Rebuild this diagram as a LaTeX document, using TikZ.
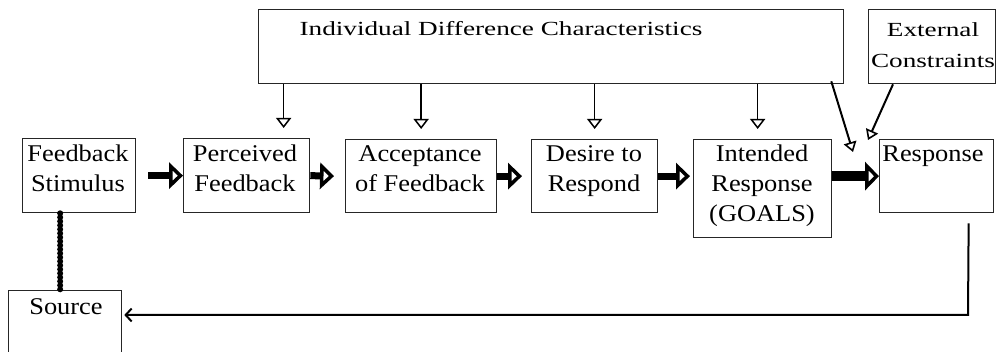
\documentclass[tikz,border=0pt]{standalone}
\usepackage{fontspec}
\setmainfont{Liberation Serif}
\newfontfamily\boxfont[FakeStretch=1.1]{Liberation Serif}
\newfontfamily\hdfont[FakeStretch=1.36]{Liberation Serif}
\usetikzlibrary{arrows.meta,calc}
\begin{document}
\begin{tikzpicture}[x=1pt,y=-1pt,
  box/.style={draw=black!85, line width=1.3pt, inner sep=0pt, anchor=north west},
  btxt/.style={font=\boxfont\fontsize{24}{30}\selectfont, align=center, inner sep=0pt, anchor=base},
  stxt/.style={font=\hdfont\fontsize{20}{31}\selectfont, align=center, inner sep=0pt, anchor=base},
  flow/.style={line width=7pt, -{Triangle[open, length=14pt, width=26pt, line width=4pt]}},
  bigflow/.style={line width=10pt, -{Triangle[open, length=14pt, width=28pt, line width=4pt]}},
  down/.style={line width=1.5pt, -{Triangle[open, length=10pt, width=15pt, line width=1.5pt]}},
  diag/.style={line width=2pt, -{Triangle[open, length=10pt, width=13pt, line width=1.6pt]}},
  back/.style={line width=2pt, -{Straight Barb[length=6pt, width=13pt, line width=2pt]}},
  dotline/.style={line width=6pt, dash pattern=on 0pt off 4pt, line cap=round}
]
\useasboundingbox (0,0) rectangle (996,352);
% boxes
\node[box, minimum width=585pt, minimum height=74pt] (idc) at (258,9) {};
\node[box, minimum width=127pt, minimum height=74pt] (ext) at (868,9) {};
\node[box, minimum width=113pt, minimum height=74pt] (fs) at (22,138) {};
\node[box, minimum width=126pt, minimum height=74pt] (pf) at (183,138) {};
\node[box, minimum width=151pt, minimum height=73pt] (acc) at (345,139) {};
\node[box, minimum width=126pt, minimum height=73pt] (des) at (531,139) {};
\node[box, minimum width=138pt, minimum height=98pt] (int) at (693,139) {};
\node[box, minimum width=114pt, minimum height=73pt] (rsp) at (879,139) {};
\node[box, minimum width=113pt, minimum height=62pt] (src) at (8,290) {};
% texts (anchor = baseline of last line)
\node[stxt] (idct) at (501,36) {Individual Difference Characteristics};
\node[stxt] (extt) at (933,68) {External\\Constraints};
\node[btxt] (fst) at (78,192) {Feedback\\Stimulus};
\node[btxt] (pft) at (245,192) {Perceived\\Feedback};
\node[btxt] (acct) at (420,192) {Acceptance\\of Feedback};
\node[btxt] (dest) at (594,192) {Desire to\\Respond};
\node[btxt] (intt) at (762,222) {Intended\\Response\\(GOALS)};
\node[btxt] (rspt) at (933,162) {Response};
\node[btxt] (srct) at (66,315) {Source};
% main flow
\draw[flow] ([xshift=12pt]fs.east) -- (pf.west);
\draw[flow] (pf.east) -- ([xshift=-11pt]acc.west);
\draw[flow] (acc.east) -- ([xshift=-9pt]des.west);
\draw[flow] (des.east) -- ([xshift=-3pt]int.west |- des.east);
\draw[bigflow] (int.east |- rsp.west) -- (rsp.west);
% influences
\draw[down] ([xshift=37pt]pf.north |- idc.south) -- ([xshift=37pt,yshift=10pt]pf.north);
\draw[down] (acc.north |- idc.south) -- ([yshift=10pt]acc.north);
\draw[down] (des.north |- idc.south) -- ([yshift=10pt]des.north);
\draw[down] ([xshift=-5pt]int.north |- idc.south) -- ([xshift=-5pt,yshift=10pt]int.north);
\coordinate (d1) at (853,152);
\coordinate (d2) at (868,140);
\draw[diag] ([xshift=-13pt,yshift=3pt]idc.south east) -- (d1);
\draw[diag] ([xshift=25pt]ext.south west) -- (d2);
% feedback loop
\coordinate (corner) at (968,315);
\draw[back] ([xshift=32pt,yshift=-10pt]rsp.south) -- (corner) -- ([xshift=2pt]corner -| src.east);
% source link
\draw[dotline] ([xshift=-19pt]fs.south) -- ([xshift=-19pt]fs.south |- src.north);
\end{tikzpicture}
\end{document}
